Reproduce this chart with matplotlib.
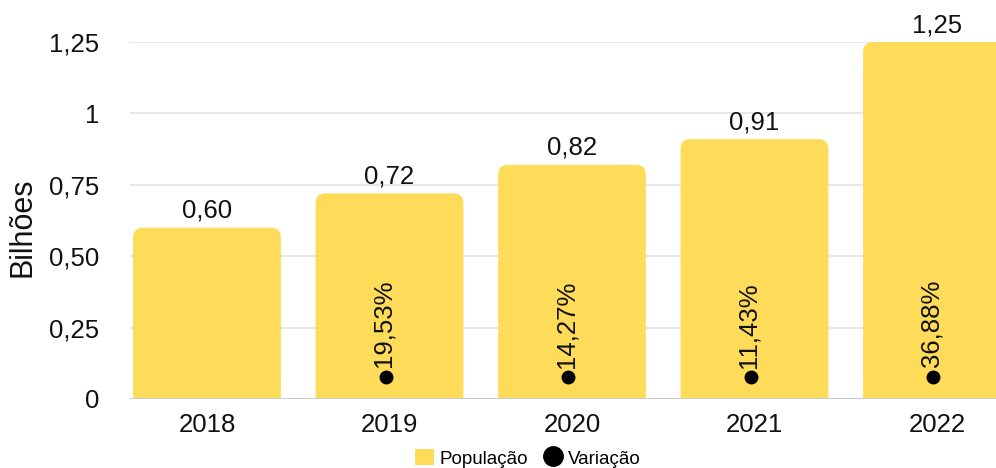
import matplotlib
matplotlib.use("Agg")
import matplotlib.pyplot as plt
import matplotlib.transforms as mtransforms
from matplotlib.patches import FancyBboxPatch, Patch
from matplotlib.lines import Line2D

plt.rcParams["font.family"] = ["Liberation Sans", "DejaVu Sans"]

# ── Data ────────────────────────────────────────────────
years = ["2018", "2019", "2020", "2021", "2022"]
populacao = [0.60, 0.72, 0.82, 0.91, 1.25]
populacao_labels = ["0,60", "0,72", "0,82", "0,91", "1,25"]
var_years = ["2019", "2020", "2021", "2022"]
variacao = [19.53, 14.27, 11.43, 36.88]
variacao_labels = ["19,53%", "14,27%", "11,43%", "36,88%"]
yticks = [0, 0.25, 0.50, 0.75, 1, 1.25]
ytick_labels = ["0", "0,25", "0,50", "0,75", "1", "1,25"]

YELLOW = "#FFDB5A"
GRID = "#E3E3E3"
BASE = "#CCCCCC"

W, H = 996, 468
fig = plt.figure(figsize=(W / 100, H / 100), dpi=100, facecolor="white")
ax = fig.add_axes([130 / W, (H - 399) / H, (W - 130) / W, 357 / H])

x = list(range(len(years)))
ax.set_xlim((130 - 207) / 182.5, (996 - 207) / 182.5)
ax.set_ylim(0, 1.25)

bars = ax.bar(x, populacao, width=0.81, color=YELLOW)

# swap square bars for ones with rounded tops
fig.canvas.draw()
px_x = ax.transData.transform((1, 0))[0] - ax.transData.transform((0, 0))[0]
px_y = ax.transData.transform((0, 1))[1] - ax.transData.transform((0, 0))[1]
aspect = px_x / px_y
r = 10 / px_x
for rect in bars:
    bx, bw, bh = rect.get_x(), rect.get_width(), rect.get_height()
    rect.set_visible(False)
    fb = FancyBboxPatch((bx, -0.1), bw, bh + 0.1,
                        boxstyle=f"round,pad=0,rounding_size={r}",
                        mutation_aspect=aspect, facecolor=YELLOW,
                        edgecolor="none", zorder=2)
    ax.add_patch(fb)

for xi, v, lab in zip(x, populacao, populacao_labels):
    ax.annotate(lab, (xi, v), xytext=(0, 3.5), textcoords="offset points",
                ha="center", va="bottom", fontsize=18.5, color="#111111")

ax.set_yticks(yticks)
ax.set_yticklabels(ytick_labels)
ax.set_xticks(x)
ax.set_xticklabels(years)
ax.tick_params(axis="both", length=0, labelsize=18.5, colors="#111111")
ax.tick_params(axis="y", pad=22)
ax.tick_params(axis="x", pad=10)
for s in ax.spines.values():
    s.set_visible(False)
ax.grid(axis="y", color=GRID, lw=1.2, zorder=0)
ax.set_axisbelow(True)
ax.axhline(0, color=BASE, lw=1.5, zorder=3)

ax.set_ylabel("Bilhões", fontsize=22, color="#111111")
ax.yaxis.set_label_coords(-93 / (W - 130), 0.48)

# variation on a hidden secondary axis
ax2 = ax.twinx()
ax2.set_ylim(-592, 9408)
ax2.axis("off")
var_x = [years.index(y) for y in var_years]
shift = mtransforms.ScaledTranslation(-4 / 100, 0, fig.dpi_scale_trans)
ax2.plot(var_x, variacao, "o", color="black", ms=9, transform=ax2.transData + shift,
         zorder=4)
for xi, v, lab in zip(var_x, variacao, variacao_labels):
    ax2.annotate(lab, (xi, v), xytext=(-4, 7), textcoords="offset points",
                 rotation=90, ha="center", va="bottom", fontsize=18.5,
                 color="#111111")
ax2.set_xlim(ax.get_xlim())

handles = [Patch(facecolor=YELLOW, edgecolor="none"),
           Line2D([], [], marker="o", color="black", ls="none", ms=14)]
fig.legend(handles, ["População", "Variação"], loc="lower center",
           bbox_to_anchor=(0.53, -0.035), ncol=2, frameon=False, fontsize=13.5,
           handlelength=1.0, handleheight=1.0, handletextpad=0.3,
           columnspacing=0.8)

fig.savefig("out.png", dpi=100, facecolor="white")
